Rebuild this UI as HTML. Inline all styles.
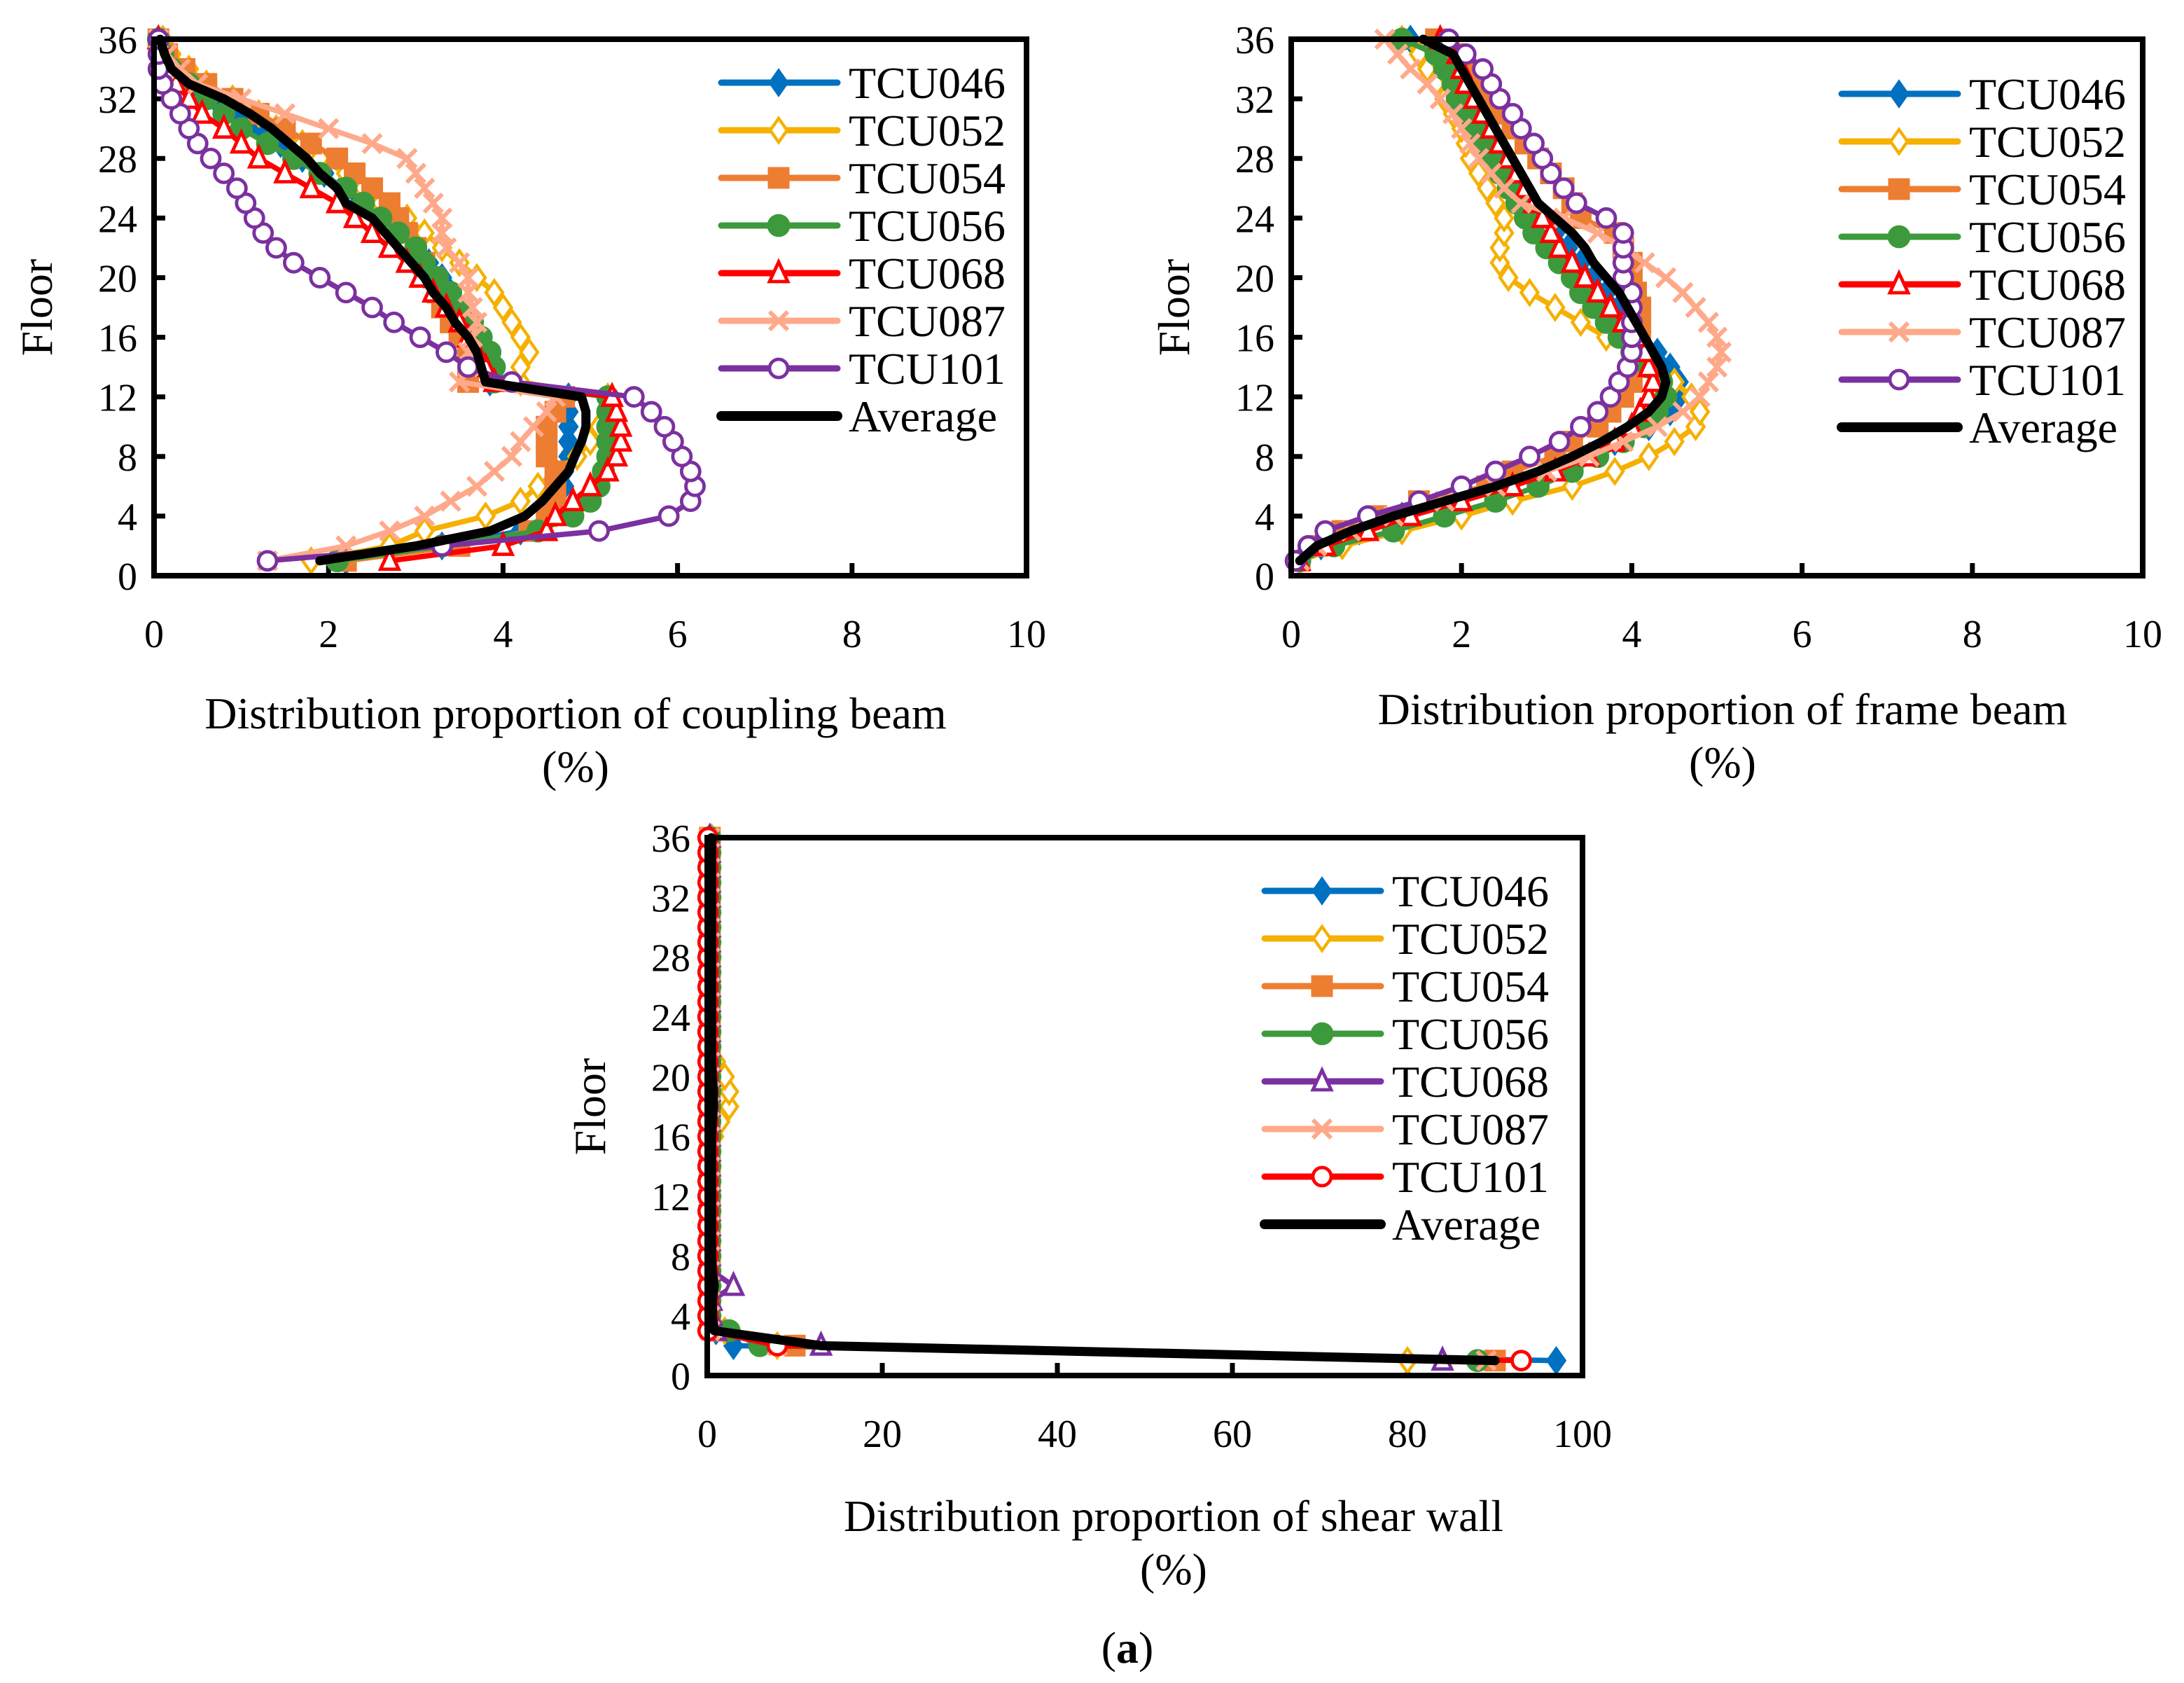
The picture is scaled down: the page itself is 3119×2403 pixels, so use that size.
<!DOCTYPE html>
<html><head><meta charset="utf-8"><style>
html,body{margin:0;padding:0;background:#fff;}
svg{display:block;}
text{font-family:"Liberation Serif",serif;fill:#000;}
</style></head><body>
<svg id="svg" width="3119" height="2403" viewBox="0 0 1559.5 1201.5" xmlns="http://www.w3.org/2000/svg">
<rect width="1559.5" height="1201.5" fill="#fff"/>
<text x="805" y="1187" font-size="32" text-anchor="middle">(<tspan font-weight="bold">a</tspan>)</text>
</svg>
<script>
const seriesNames = ["TCU046","TCU052","TCU054","TCU056","TCU068","TCU087","TCU101","Average"];
const floors = [1,2,3,4,5,6,7,8,9,10,11,12,13,14,15,16,17,18,19,20,21,22,23,24,25,26,27,28,29,30,31,32,33,34,35,36];
const yTicks = [0,4,8,12,16,20,24,28,32,36];
const xTicks1 = [0,2,4,6,8,10];
const xTicks3 = [0,20,40,60,80,100];

// Chart 1: coupling beam
const c1_046 = [2.2,3.3,4.2,4.5,4.6,4.7,4.7,4.75,4.75,4.75,4.75,4.75,3.85,3.85,3.8,3.7,3.6,3.5,3.4,3.3,3.15,3.0,2.8,2.6,2.35,2.15,1.95,1.7,1.45,1.2,0.95,0.7,0.45,0.25,0.12,0.05];
const c1_052 = [1.8,2.7,3.1,3.8,4.2,4.4,4.6,4.85,5.0,5.1,5.2,5.2,4.2,4.2,4.3,4.2,4.1,4.0,3.9,3.7,3.5,3.3,3.1,2.9,2.6,2.4,2.2,1.9,1.7,1.4,1.2,0.9,0.6,0.4,0.2,0.1];
const c1_054 = [2.2,3.5,4.3,4.5,4.6,4.6,4.6,4.5,4.5,4.5,4.6,4.7,3.6,3.6,3.6,3.5,3.4,3.3,3.25,3.2,3.1,3.0,2.9,2.8,2.7,2.5,2.3,2.1,1.8,1.5,1.2,0.9,0.6,0.35,0.15,0.05];
const c1_056 = [2.1,3.3,4.4,4.8,5.0,5.1,5.15,5.2,5.2,5.2,5.2,5.2,3.9,3.9,3.85,3.75,3.65,3.5,3.4,3.25,3.1,3.0,2.8,2.6,2.4,2.2,1.9,1.6,1.3,1.0,0.8,0.6,0.4,0.2,0.1,0.05];
const c1_068 = [2.7,4.0,4.5,4.6,4.8,5.0,5.2,5.3,5.35,5.35,5.3,5.25,3.9,3.8,3.7,3.6,3.5,3.35,3.2,3.05,2.9,2.7,2.5,2.3,2.1,1.8,1.5,1.2,1.0,0.8,0.55,0.4,0.25,0.15,0.08,0.05];
const c1_087 = [1.3,2.2,2.7,3.1,3.4,3.7,3.9,4.1,4.2,4.35,4.5,4.6,3.5,3.6,3.6,3.65,3.7,3.65,3.6,3.6,3.5,3.35,3.3,3.3,3.2,3.1,3.0,2.9,2.5,2.0,1.5,1.0,0.5,0.3,0.15,0.05];
const c1_101 = [1.3,3.3,5.1,5.9,6.15,6.2,6.15,6.05,5.95,5.85,5.7,5.5,4.1,3.6,3.35,3.05,2.75,2.5,2.2,1.9,1.6,1.4,1.25,1.15,1.05,0.95,0.8,0.65,0.5,0.4,0.3,0.2,0.1,0.05,0.05,0.05];
const c1_avg = [1.9,3.0,3.85,4.25,4.45,4.6,4.75,4.82,4.9,4.95,4.95,4.9,3.8,3.75,3.7,3.6,3.45,3.35,3.2,3.1,2.95,2.8,2.65,2.5,2.2,2.1,1.9,1.75,1.55,1.35,1.1,0.8,0.4,0.2,0.12,0.07];

// Chart 2: frame beam
const c2_046 = [0.1,0.35,0.8,1.3,1.9,2.5,3.0,3.4,3.8,4.2,4.45,4.55,4.55,4.45,4.3,4.1,4.0,3.85,3.7,3.55,3.4,3.25,3.1,2.9,2.75,2.65,2.55,2.5,2.4,2.3,2.2,2.1,2.0,1.8,1.6,1.4];
const c2_052 = [0.1,0.6,1.3,2.0,2.6,3.3,3.8,4.2,4.5,4.75,4.8,4.7,4.5,4.25,4.0,3.7,3.4,3.1,2.8,2.55,2.45,2.45,2.5,2.5,2.4,2.3,2.2,2.1,2.05,2.0,1.9,1.8,1.7,1.6,1.5,1.3];
const c2_054 = [0.1,0.3,0.6,1.0,1.5,2.3,2.6,3.1,3.3,3.6,3.75,3.9,4.0,4.05,4.1,4.1,4.1,4.1,4.05,4.0,4.0,3.9,3.8,3.4,3.3,3.2,3.05,2.9,2.75,2.6,2.45,2.3,2.2,2.05,1.9,1.7];
const c2_056 = [0.1,0.5,1.2,1.8,2.4,2.9,3.3,3.6,3.9,4.15,4.3,4.4,4.35,4.2,4.0,3.85,3.7,3.55,3.4,3.3,3.15,3.0,2.85,2.75,2.65,2.55,2.45,2.35,2.25,2.15,2.05,1.95,1.9,1.8,1.7,1.3];
const c2_068 = [0.1,0.4,0.9,1.4,2.0,2.6,3.1,3.5,3.8,4.0,4.1,4.2,4.25,4.2,4.15,4.05,3.9,3.75,3.6,3.45,3.3,3.15,3.05,2.95,2.85,2.75,2.65,2.55,2.45,2.35,2.25,2.15,2.05,2.0,1.95,1.75];
const c2_087 = [0.1,0.3,0.7,1.2,1.8,2.4,3.0,3.5,3.9,4.3,4.6,4.8,4.9,5.0,5.05,5.0,4.9,4.75,4.6,4.4,4.15,3.9,3.6,3.2,2.7,2.5,2.35,2.2,2.1,2.0,1.9,1.75,1.6,1.4,1.25,1.1];
const c2_101 = [0.05,0.2,0.4,0.9,1.5,2.0,2.4,2.8,3.15,3.4,3.6,3.75,3.85,3.95,4.0,4.0,4.0,4.0,4.0,3.9,3.9,3.9,3.9,3.7,3.35,3.2,3.05,2.95,2.85,2.7,2.6,2.45,2.35,2.25,2.05,1.85];
const c2_avg = [0.1,0.3,0.7,1.2,1.8,2.4,2.9,3.3,3.65,3.95,4.2,4.35,4.4,4.35,4.25,4.15,4.05,3.95,3.85,3.7,3.55,3.45,3.3,3.1,2.9,2.8,2.7,2.6,2.5,2.4,2.3,2.2,2.1,2.0,1.9,1.55];

// Chart 3: shear wall
const c3_046 = [97,3,1,0.3,0.3,0.3,0.3,0.3,0.3,0.3,0.3,0.3,0.3,0.3,0.3,0.3,0.3,0.3,0.3,0.3,0.3,0.3,0.3,0.3,0.3,0.3,0.3,0.3,0.3,0.3,0.3,0.3,0.3,0.3,0.3,0.3];
const c3_052 = [80,8,2,0.5,0.5,0.5,0.5,0.5,0.5,0.5,0.5,0.5,0.5,0.5,0.5,0.8,1.5,2.5,2.5,2,1,0.5,0.5,0.5,0.5,0.5,0.5,0.5,0.5,0.5,0.5,0.5,0.5,0.5,0.5,0.5];
const c3_054 = [90,10,1.5,0.3,0.3,0.3,0.3,0.3,0.3,0.3,0.3,0.3,0.3,0.3,0.3,0.3,0.3,0.3,0.3,0.3,0.3,0.3,0.3,0.3,0.3,0.3,0.3,0.3,0.3,0.3,0.3,0.3,0.3,0.3,0.3,0.3];
const c3_056 = [88,6,2.5,0.3,0.3,0.3,0.3,0.3,0.3,0.3,0.3,0.3,0.3,0.3,0.3,0.3,0.3,0.3,0.3,0.3,0.3,0.3,0.3,0.3,0.3,0.3,0.3,0.3,0.3,0.3,0.3,0.3,0.3,0.3,0.3,0.3];
const c3_068 = [84,13,1,0.5,0.5,3,0.5,0.3,0.3,0.3,0.3,0.3,0.3,0.3,0.3,0.3,0.3,0.3,0.3,0.3,0.3,0.3,0.3,0.3,0.3,0.3,0.3,0.3,0.3,0.3,0.3,0.3,0.3,0.3,0.3,0.3];
const c3_087 = [89,8,0.3,0.3,0.3,0.3,0.3,0.3,0.3,0.3,0.3,0.3,0.3,0.3,0.3,0.3,0.3,0.3,0.3,0.3,0.3,0.3,0.3,0.3,0.3,0.3,0.3,0.3,0.3,0.3,0.3,0.3,0.3,0.3,0.3,0.3,0.3];
const c3_101 = [93,8,0.1,0.1,0.1,0.1,0.1,0.1,0.1,0.1,0.1,0.1,0.1,0.1,0.1,0.1,0.1,0.1,0.1,0.1,0.1,0.1,0.1,0.1,0.1,0.1,0.1,0.1,0.1,0.1,0.1,0.1,0.1,0.1,0.1,0.1];
const c3_avg = [90,13,0.8,0.6,0.6,0.8,0.6,0.5,0.5,0.5,0.5,0.5,0.5,0.5,0.5,0.5,0.6,0.7,0.7,0.6,0.5,0.5,0.5,0.5,0.5,0.5,0.5,0.5,0.5,0.5,0.5,0.5,0.5,0.5,0.5,0.5];

const NS = "http://www.w3.org/2000/svg";
const svg = document.getElementById("svg");
function mk(tag, attrs, parent){ const e=document.createElementNS(NS,tag); for(const k in attrs) e.setAttribute(k,attrs[k]); (parent||svg).appendChild(e); return e; }

const styles1 = [
 {c:"#0070C0",m:"diamond",f:true},{c:"#F5B000",m:"diamond",f:false},{c:"#ED7D31",m:"square",f:true},
 {c:"#3C9A3C",m:"circle",f:true},{c:"#FF0000",m:"triangle",f:false},{c:"#FFA98A",m:"x",f:false},
 {c:"#7B30A0",m:"circle",f:false},{c:"#000",m:"none",f:false}];
const styles3 = [
 {c:"#0070C0",m:"diamond",f:true},{c:"#F5B000",m:"diamond",f:false},{c:"#ED7D31",m:"square",f:true},
 {c:"#3C9A3C",m:"circle",f:true},{c:"#7B30A0",m:"triangle",f:false},{c:"#FFA98A",m:"x",f:false},
 {c:"#FF0000",m:"circle",f:false},{c:"#000",m:"none",f:false}];

function marker(g, type, x, y, color, filled){
  const fill = filled?color:"#fff";
  if(type==="diamond") return mk("polygon",{points:`${x},${y-8.5} ${x+6},${y} ${x},${y+8.5} ${x-6},${y}`,fill,stroke:color,"stroke-width":2.2},g);
  if(type==="square") return mk("rect",{x:x-7,y:y-7,width:14,height:14,fill,stroke:color,"stroke-width":1.5},g);
  if(type==="circle") return mk("circle",{cx:x,cy:y,r:filled?7:6.5,fill,stroke:color,"stroke-width":2.4},g);
  if(type==="triangle") return mk("polygon",{points:`${x},${y-8} ${x+6.5},${y+6} ${x-6.5},${y+6}`,fill,stroke:color,"stroke-width":2.4},g);
  if(type==="x") return mk("path",{d:`M${x-6.5},${y-6.5}L${x+6.5},${y+6.5}M${x+6.5},${y-6.5}L${x-6.5},${y+6.5}`,stroke:color,"stroke-width":3},g);
}

function chart(opt){
  const {name,x0,x1,y0,y1,xmax,xTicks,series,styles,title,titleX,titleY,legX,legY}=opt;
  const g = mk("g",{});
  
  
  const sx = v => x0 + (x1-x0)*v/xmax;
  const sy = v => y0 - (y0-y1)*v/36;
  yTicks.forEach(t=>{
    const tk=mk("line",{x1:x0,x2:x0+8,y1:sy(t),y2:sy(t),stroke:"#000","stroke-width":3.5},g);
    
    
    const tl=mk("text",{x:x0-12,y:sy(t)+10,"font-size":28,"text-anchor":"end"},g); tl.textContent=t;
    
    
  });
  xTicks.forEach(t=>{
    const tk=mk("line",{x1:sx(t),x2:sx(t),y1:y0,y2:y0-9,stroke:"#000","stroke-width":3.5},g);
    
    
    const tl=mk("text",{x:sx(t),y:y0+51,"font-size":28,"text-anchor":"middle"},g); tl.textContent=t;
    
    
  });
  const yl=mk("text",{x:0,y:0,"font-size":32,"text-anchor":"middle",transform:`translate(${x0-73},${(y0+y1)/2}) rotate(-90)`},g); yl.textContent="Floor";
  
  
  const t1=mk("text",{x:titleX,y:titleY,"font-size":32,"text-anchor":"middle"},g); t1.textContent=title;
  
  
  const t2=mk("text",{x:titleX,y:titleY+38,"font-size":32,"text-anchor":"middle"},g); t2.textContent="(%)";
  
  
  const clip = mk("g",{},g);
  series.forEach((arr,i)=>{
    const st=styles[i];
    const sg=mk("g",{},clip);
    
    
    const pts=arr.map((v,k)=>`${sx(v)},${sy(floors[k])}`).join(" ");
    mk("polyline",{points:pts,fill:"none",stroke:st.c,"stroke-width":st.m==="none"?6.5:3.8,"stroke-linejoin":"round","stroke-linecap":"round"},sg);
    if(st.m!=="none") arr.forEach((v,k)=>{
      const m=marker(sg,st.m,sx(v),sy(floors[k]),st.c,st.f);
      
      
    });
  });
  const fr=mk("rect",{x:x0,y:y1,width:x1-x0,height:y0-y1,fill:"none",stroke:"#000","stroke-width":4},g);
  
  
  const lg=mk("g",{},g);
  
  
  seriesNames.forEach((n,i)=>{
    const st=styles[i]; const y=legY+i*34;
    const e=mk("g",{},lg);
    
    
    mk("line",{x1:legX,x2:legX+83,y1:y,y2:y,stroke:st.c,"stroke-width":st.m==="none"?7:4.5,"stroke-linecap":"round"},e);
    if(st.m!=="none") marker(e,st.m,legX+41,y,st.c,st.f);
    const t=mk("text",{x:legX+91,y:y+11,"font-size":32},e); t.textContent=n;
  });
}

chart({name:"coupling-beam-chart",x0:110,x1:733,y0:411,y1:28,xmax:10,xTicks:xTicks1,
  series:[c1_046,c1_052,c1_054,c1_056,c1_068,c1_087,c1_101,c1_avg],styles:styles1,
  title:"Distribution proportion of coupling beam",titleX:411,titleY:520,legX:515,legY:59});
chart({name:"frame-beam-chart",x0:922,x1:1530,y0:411,y1:28,xmax:10,xTicks:xTicks1,
  series:[c2_046,c2_052,c2_054,c2_056,c2_068,c2_087,c2_101,c2_avg],styles:styles1,
  title:"Distribution proportion of frame beam",titleX:1230,titleY:517,legX:1315,legY:67});
chart({name:"shear-wall-chart",x0:505,x1:1130,y0:982,y1:598,xmax:100,xTicks:xTicks3,
  series:[c3_046,c3_052,c3_054,c3_056,c3_068,c3_087,c3_101,c3_avg],styles:styles3,
  title:"Distribution proportion of shear wall",titleX:838,titleY:1093,legX:903,legY:636});
</script>
</body></html>
